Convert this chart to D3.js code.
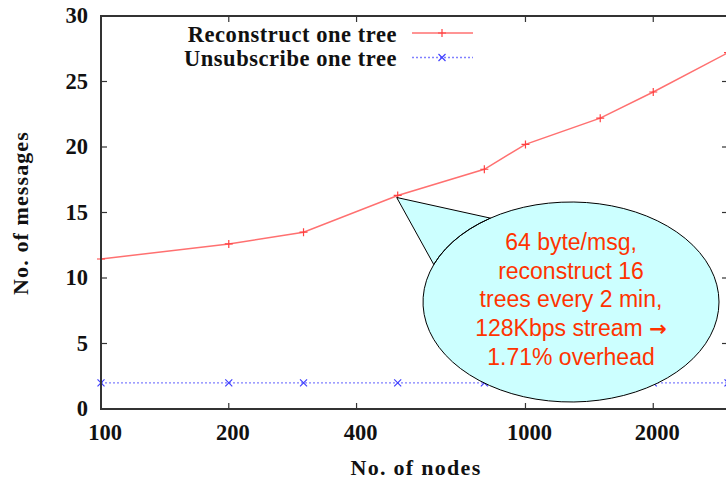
<!DOCTYPE html>
<html>
<head>
<meta charset="utf-8">
<script src="https://cdn.jsdelivr.net/npm/d3@7"></script>
<style>
  body { margin: 0; background: #fff; }
  svg { display: block; }
  .lbl { font-family: "Liberation Serif", serif; font-weight: bold; fill: #111; }
</style>
</head>
<body>
<svg id="chart"></svg>
<script>
// data
var nodes = [100, 200, 300, 500, 800, 1000, 1500, 2000, 3000];
var reconstruct = [11.45, 12.6, 13.5, 16.3, 18.3, 20.2, 22.2, 24.2, 27.2];
var unsubscribe = [2, 2, 2, 2, 2, 2, 2, 2, 2];
var xTicks = [100, 200, 400, 1000, 2000];
var yTicks = [0, 5, 10, 15, 20, 25, 30];
var seriesNames = ["Reconstruct one tree", "Unsubscribe one tree"];
var noteLines = ["64 byte/msg,", "reconstruct 16", "trees every 2 min,", "128Kbps stream ", "1.71% overhead"];

var width = 726, height = 481;
var margin = { top: 16, right: -2, bottom: 72, left: 101 };

var svg = d3.select("#chart")
  .attr("width", width)
  .attr("height", height);

var x = d3.scaleLog()
  .domain([100, 3000])
  .range([margin.left, width - margin.right]);

var y = d3.scaleLinear()
  .domain([0, 30])
  .range([height - margin.bottom, margin.top]);

var x0 = x.range()[0], x1 = x.range()[1];
var y0 = y.range()[0], y1 = y.range()[1];

var redData = nodes.map(function(d, i) { return { n: d, v: reconstruct[i] }; });
var blueData = nodes.map(function(d, i) { return { n: d, v: unsubscribe[i] }; });

var line = d3.line()
  .x(function(d) { return x(d.n); })
  .y(function(d) { return y(d.v); });

// series lines
svg.append("path")
  .datum(blueData)
  .attr("d", line)
  .attr("fill", "none")
  .attr("stroke", "#8080ff")
  .attr("stroke-width", 1.3)
  .attr("stroke-dasharray", "2,2");

svg.append("path")
  .datum(redData)
  .attr("d", line)
  .attr("fill", "none")
  .attr("stroke", "#ff7070")
  .attr("stroke-width", 1.5);

function plus(sel, color) {
  sel.append("path")
    .attr("d", "M-4,0H4M0,-4V4")
    .attr("stroke", color)
    .attr("stroke-width", 1.2);
}
function cross(sel, color) {
  sel.append("path")
    .attr("d", "M-3.5,-3.5L3.5,3.5M-3.5,3.5L3.5,-3.5")
    .attr("stroke", color)
    .attr("stroke-width", 1.2);
}

svg.append("g").selectAll("g")
  .data(redData).enter().append("g")
  .attr("transform", function(d) { return "translate(" + x(d.n) + "," + y(d.v) + ")"; })
  .each(function() { plus(d3.select(this), "#ff4040"); });

svg.append("g").selectAll("g")
  .data(blueData).enter().append("g")
  .attr("transform", function(d) { return "translate(" + x(d.n) + "," + y(d.v) + ")"; })
  .each(function() { cross(d3.select(this), "#4040ff"); });

// frame
svg.append("rect")
  .attr("x", x0).attr("y", y1)
  .attr("width", x1 - x0).attr("height", y0 - y1)
  .attr("fill", "none")
  .attr("stroke", "#333")
  .attr("stroke-width", 2);

// ticks (inward, mirrored)
var tk = 6;
var yt = svg.append("g");
yTicks.slice(1, -1).forEach(function(t) {
  yt.append("line").attr("x1", x0).attr("x2", x0 + tk).attr("y1", y(t)).attr("y2", y(t)).attr("stroke", "#333").attr("stroke-width", 1.2);
  yt.append("line").attr("x1", x1).attr("x2", x1 - tk).attr("y1", y(t)).attr("y2", y(t)).attr("stroke", "#333").attr("stroke-width", 1.2);
});
xTicks.slice(1).forEach(function(t) {
  yt.append("line").attr("x1", x(t)).attr("x2", x(t)).attr("y1", y0).attr("y2", y0 - tk).attr("stroke", "#333").attr("stroke-width", 1.2);
  yt.append("line").attr("x1", x(t)).attr("x2", x(t)).attr("y1", y1).attr("y2", y1 + tk).attr("stroke", "#333").attr("stroke-width", 1.2);
});

// tick labels
svg.append("g").selectAll("text")
  .data(yTicks).enter().append("text")
  .attr("class", "lbl")
  .attr("x", x0 - 13)
  .attr("y", function(d) { return y(d) + 7; })
  .attr("text-anchor", "end")
  .attr("font-size", 22.5)
  .text(function(d) { return d; });

svg.append("g").selectAll("text")
  .data(xTicks).enter().append("text")
  .attr("class", "lbl")
  .attr("x", function(d) { return x(d) + 4; })
  .attr("y", y0 + 31)
  .attr("text-anchor", "middle")
  .attr("font-size", 22.5)
  .text(function(d) { return d; });

// axis titles
svg.append("text")
  .attr("class", "lbl")
  .attr("x", 416).attr("y", 475)
  .attr("text-anchor", "middle")
  .attr("font-size", 22)
  .attr("letter-spacing", 1.3)
  .text("No. of nodes");

svg.append("text")
  .attr("class", "lbl")
  .attr("transform", "translate(28,213) rotate(-90)")
  .attr("text-anchor", "middle")
  .attr("font-size", 22)
  .attr("letter-spacing", 1.1)
  .text("No. of messages");

// legend
var legend = svg.append("g");
seriesNames.forEach(function(name, i) {
  var ly = 33 + i * 24.5;
  legend.append("text")
    .attr("class", "lbl")
    .attr("x", 397).attr("y", ly + 8.5)
    .attr("text-anchor", "end")
    .attr("font-size", 22.5)
    .attr("letter-spacing", 0.55)
    .text(name);
  var s = legend.append("line")
    .attr("x1", 412).attr("x2", 473).attr("y1", ly).attr("y2", ly)
    .attr("stroke", i === 0 ? "#ff7070" : "#8080ff")
    .attr("stroke-width", i === 0 ? 1.5 : 1.3);
  if (i === 1) s.attr("stroke-dasharray", "2,2");
  var m = legend.append("g").attr("transform", "translate(442," + ly + ")");
  if (i === 0) plus(m, "#ff4040"); else cross(m, "#4040ff");
});

// callout balloon pointing at the 500-node point
var tipX = x(500) - 1, tipY = y(reconstruct[3]) + 2;
var cx = 571, cy = 302, rx = 148, ry = 100;
function onEllipse(deg) {
  var a = deg * Math.PI / 180;
  return [cx + rx * Math.cos(a), cy + ry * Math.sin(a)];
}
var pA = onEllipse(-123), pB = onEllipse(-158);
var balloon = d3.path();
balloon.moveTo(pA[0], pA[1]);
balloon.lineTo(tipX, tipY);
balloon.lineTo(pB[0], pB[1]);
var steps = 80;
var a0 = -158, a1 = -123 + 360;
for (var k = 1; k <= steps; k++) {
  var p = onEllipse(a0 + (a1 - a0) * k / steps);
  balloon.lineTo(p[0], p[1]);
}
balloon.closePath();

svg.append("path")
  .attr("d", balloon.toString())
  .attr("fill", "#ccffff")
  .attr("stroke", "#000")
  .attr("stroke-width", 1);

var note = svg.append("g").selectAll("text")
  .data(noteLines).enter().append("text")
  .attr("x", cx)
  .attr("y", function(d, i) { return 250 + i * 28.7; })
  .attr("text-anchor", "middle")
  .attr("font-family", "'Liberation Sans', Arial, sans-serif")
  .attr("font-size", 23)
  .attr("fill", "#ff3300")
  .text(function(d) { return d; });

// the arrow glyph in line 4
note.filter(function(d, i) { return i === 3; })
  .append("tspan")
  .attr("font-family", "'DejaVu Sans', sans-serif")
  .attr("font-weight", "bold")
  .attr("font-size", 21)
  .text("\u2192");
</script>
</body>
</html>
